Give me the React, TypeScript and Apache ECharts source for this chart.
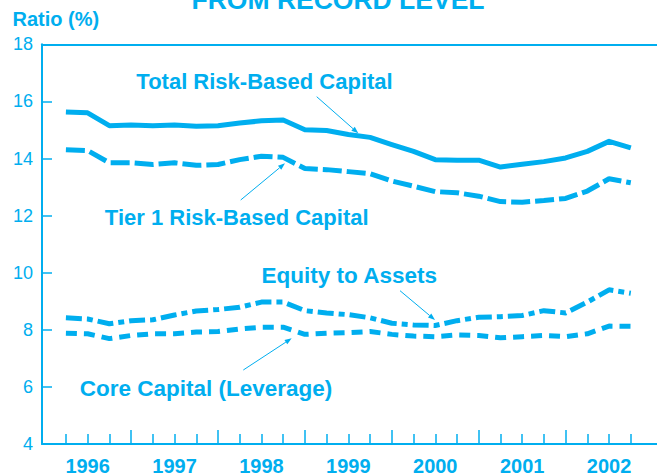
import React, { useEffect, useRef } from "react";
import * as echarts from "echarts";

const quarters = [
  "1996Q1", "1996Q2", "1996Q3", "1996Q4",
  "1997Q1", "1997Q2", "1997Q3", "1997Q4",
  "1998Q1", "1998Q2", "1998Q3", "1998Q4",
  "1999Q1", "1999Q2", "1999Q3", "1999Q4",
  "2000Q1", "2000Q2", "2000Q3", "2000Q4",
  "2001Q1", "2001Q2", "2001Q3", "2001Q4",
  "2002Q1", "2002Q2", "2002Q3",
];

const totalRiskBased = [
  15.63, 15.6, 15.15, 15.17, 15.15, 15.17, 15.13, 15.15, 15.24, 15.32, 15.35,
  15.01, 14.98, 14.84, 14.74, 14.49, 14.25, 13.96, 13.94, 13.94, 13.7, 13.8,
  13.89, 14.02, 14.25, 14.6, 14.37,
];
const tier1RiskBased = [
  14.31, 14.28, 13.85, 13.85, 13.79, 13.85, 13.76, 13.79, 13.96, 14.08, 14.04,
  13.65, 13.61, 13.54, 13.47, 13.21, 13.03, 12.84, 12.8, 12.68, 12.49, 12.47,
  12.53, 12.6, 12.86, 13.29, 13.15,
];
const equityToAssets = [
  8.42, 8.38, 8.21, 8.32, 8.35, 8.52, 8.66, 8.71, 8.79, 8.97, 8.97, 8.67, 8.59,
  8.53, 8.42, 8.23, 8.17, 8.15, 8.32, 8.44, 8.46, 8.5, 8.67, 8.59, 8.97, 9.4,
  9.28,
];
const coreCapital = [
  7.88, 7.86, 7.69, 7.8, 7.86, 7.86, 7.92, 7.94, 8.03, 8.09, 8.09, 7.84, 7.88,
  7.9, 7.94, 7.84, 7.78, 7.76, 7.82, 7.8, 7.72, 7.76, 7.8, 7.76, 7.86, 8.13,
  8.12,
];

const seriesNames = [
  "Total Risk-Based Capital",
  "Tier 1 Risk-Based Capital",
  "Equity to Assets",
  "Core Capital (Leverage)",
];

const C = "#00AEEF";
const FONT = '"Liberation Sans", Arial, Helvetica, sans-serif';

function arrow(x1: number, y1: number, x2: number, y2: number) {
  const dx = x2 - x1;
  const dy = y2 - y1;
  const len = Math.sqrt(dx * dx + dy * dy);
  const ux = dx / len;
  const uy = dy / len;
  const nx = -uy;
  const ny = ux;
  const hl = 7;
  const hw = 2.6;
  const bx = x2 - ux * hl;
  const by = y2 - uy * hl;
  return [
    {
      type: "line",
      shape: { x1, y1, x2: bx, y2: by },
      style: { stroke: C, lineWidth: 1 },
      silent: true,
    },
    {
      type: "polygon",
      shape: {
        points: [
          [x2, y2],
          [bx + nx * hw, by + ny * hw],
          [bx - nx * hw, by - ny * hw],
        ],
      },
      style: { fill: C },
      silent: true,
    },
  ];
}

function label(text: string, x: number, y: number, size: number) {
  return {
    type: "text",
    x,
    y,
    silent: true,
    style: {
      text,
      fill: C,
      font: `bold ${size}px ${FONT}`,
      align: "center",
      verticalAlign: "middle",
    },
  };
}

export default function App() {
  const ref = useRef<HTMLDivElement>(null);

  useEffect(() => {
    if (!ref.current) return;
    const chart = echarts.init(ref.current, undefined, { renderer: "svg" });

    const allIdx = quarters.map((_, i) => i);
    const longIdx = quarters
      .map((q, i) => (q.endsWith("Q4") ? i : -1))
      .filter((i) => i >= 0);
    const shortIdx = allIdx.filter((i) => longIdx.indexOf(i) < 0);
    const labelIdx = quarters
      .map((q, i) => (q.endsWith("Q2") ? i : -1))
      .filter((i) => i >= 0);

    const xMin = -1.1;
    const xMax = 27.206;

    const mk = (vals: number[]) => vals.map((v, i) => [i, v]);
    const lineBase = {
      type: "line",
      showSymbol: false,
      symbol: "none",
      xAxisIndex: 0,
      yAxisIndex: 0,
      silent: true,
    };

    chart.setOption({
      animation: false,
      grid: { left: 42, top: 44.3, width: 625, height: 401.4 },
      xAxis: [
        {
          type: "value",
          position: "bottom",
          min: xMin,
          max: xMax,
          axisLine: { show: true, onZero: false, lineStyle: { color: C, width: 2 } },
          axisTick: {
            show: true,
            inside: true,
            length: 10,
            customValues: shortIdx,
            lineStyle: { color: C, width: 1.5 },
          },
          axisLabel: {
            show: true,
            customValues: labelIdx,
            formatter: (v: number) => quarters[Math.round(v)].slice(0, 4),
            color: C,
            fontFamily: FONT,
            fontWeight: "bold",
            fontSize: 20,
            margin: 12,
          },
          splitLine: { show: false },
        },
        {
          type: "value",
          position: "bottom",
          min: xMin,
          max: xMax,
          axisLine: { show: false, onZero: false },
          axisTick: {
            show: true,
            inside: true,
            length: 14,
            customValues: longIdx,
            lineStyle: { color: C, width: 1.5 },
          },
          axisLabel: { show: false },
          splitLine: { show: false },
        },
        {
          type: "value",
          position: "top",
          min: xMin,
          max: xMax,
          axisLine: { show: true, onZero: false, lineStyle: { color: C, width: 2 } },
          axisTick: { show: false },
          axisLabel: { show: false },
          splitLine: { show: false },
        },
      ],
      yAxis: [
        {
          type: "value",
          position: "left",
          min: 4,
          max: 18,
          interval: 2,
          axisLine: { show: true, onZero: false, lineStyle: { color: C, width: 2 } },
          axisTick: {
            show: true,
            inside: true,
            length: 10,
            lineStyle: { color: C, width: 1.5 },
          },
          axisLabel: {
            color: C,
            fontFamily: FONT,
            fontSize: 18,
            margin: 9,
          },
          splitLine: { show: false },
        },
      ],
      series: [
        {
          ...lineBase,
          name: seriesNames[0],
          data: mk(totalRiskBased),
          lineStyle: { color: C, width: 5, join: "round" },
        },
        {
          ...lineBase,
          name: seriesNames[1],
          data: mk(tier1RiskBased),
          lineStyle: { color: C, width: 5, type: [19, 5], cap: "butt" },
        },
        {
          ...lineBase,
          name: seriesNames[2],
          data: mk(equityToAssets),
          lineStyle: { color: C, width: 5, type: [16, 5, 6, 5], cap: "butt" },
        },
        {
          ...lineBase,
          name: seriesNames[3],
          data: mk(coreCapital),
          lineStyle: { color: C, width: 5, type: [11, 7], cap: "butt" },
        },
      ],
      graphic: [
        label("FROM RECORD LEVEL", 338, 0, 26.5),
        {
          type: "text",
          x: 12.5,
          y: 18.5,
          silent: true,
          style: {
            text: "Ratio (%)",
            fill: C,
            font: `bold 20px ${FONT}`,
            align: "left",
            verticalAlign: "middle",
          },
        },
        label(seriesNames[0], 264.5, 81.7, 22),
        label(seriesNames[1], 236.7, 217.5, 22),
        label(seriesNames[2], 349.2, 275.8, 22.5),
        label(seriesNames[3], 206, 388, 22.5),
        ...arrow(316.7, 96.7, 358.3, 133.3),
        ...arrow(240.7, 200, 285, 163.3),
        ...arrow(400, 290.7, 435, 320),
        ...arrow(243.3, 370, 291.7, 338.3),
      ],
    });

    return () => chart.dispose();
  }, []);

  return (
    <div
      ref={ref}
      style={{ position: "absolute", left: 0, top: 0, width: 657, height: 476 }}
    />
  );
}
